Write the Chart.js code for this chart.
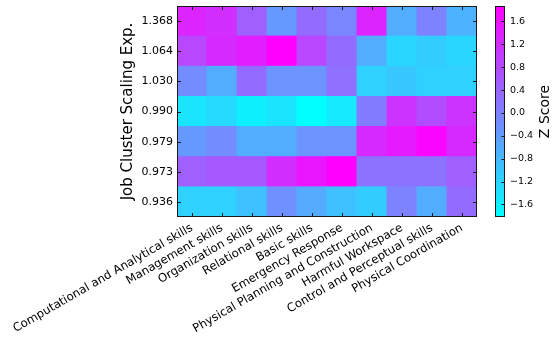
<!DOCTYPE html>
<html>
<head>
<meta charset="utf-8">
<script src="https://cdn.jsdelivr.net/npm/chart.js@4.4.1/dist/chart.umd.min.js"></script>
<style>
  html, body { margin: 0; padding: 0; background: #fff; }
  #wrap { position: relative; width: 555px; height: 337px; }
  #wrap canvas { position: absolute; left: 0; top: 0; }
</style>
</head>
<body>
<div id="wrap">
  <canvas id="heat" width="555" height="337"></canvas>
  <canvas id="cbar" width="555" height="337"></canvas>
</div>
<script>
// Skill clusters (columns)
const skills = [
  'Computational and Analytical skills',
  'Management skills',
  'Organization skills',
  'Relational skills',
  'Basic skills',
  'Emergency Response',
  'Physical Planning and Construction',
  'Harmful Workspace',
  'Control and Perceptual skills',
  'Physical Coordination'
];

// Job cluster scaling exponents (rows, top to bottom)
const scalingExp = ['1.368', '1.064', '1.030', '0.990', '0.979', '0.973', '0.936'];

// Z scores per job cluster, one value per skill cluster
const z1368 = [ 1.35,  1.21,  0.50, -0.34,  0.32, -0.09,  1.35, -0.64, -0.01, -0.71];
const z1064 = [ 0.84,  1.28,  1.43,  1.87,  0.84,  0.32, -0.64, -1.23, -1.08, -1.23];
const z1030 = [-0.16, -0.64,  0.32, -0.27, -0.27,  0.25, -1.16, -1.01, -1.16, -1.16];
const z0990 = [-1.45, -1.27, -1.60, -1.45, -1.82, -1.52,  0.06,  1.13,  0.76,  1.13];
const z0979 = [-0.34, -0.16, -0.64, -0.64, -0.27, -0.27,  1.28,  1.50,  1.80,  1.28];
const z0973 = [ 0.50,  0.58,  0.58,  1.21,  1.57,  1.87,  0.21,  0.21,  0.21,  0.50];
const z0936 = [-1.16, -1.16, -0.93, -0.23, -0.60, -0.93, -1.08, -0.01, -0.64,  0.32];

const zRows = [z1368, z1064, z1030, z0990, z0979, z0973, z0936];

// Colour bar range and ticks
const zMin = -1.82;
const zMax = 1.87;
const zTicks = [-1.6, -1.2, -0.8, -0.4, 0.0, 0.4, 0.8, 1.2, 1.6];

const FONT = "'DejaVu Sans', 'Liberation Sans', sans-serif";
Chart.defaults.font.family = FONT;
Chart.defaults.color = '#000';

// "cool" colour map: cyan -> magenta
function coolColor(v) {
  let t = (v - zMin) / (zMax - zMin);
  t = Math.max(0, Math.min(1, t));
  const r = Math.round(255 * t);
  const g = Math.round(255 * (1 - t));
  return `rgb(${r},${g},255)`;
}

const FRAME = '#1a1a1a';

// Frame plus inward-pointing ticks on all four sides
const heatFrame = {
  id: 'heatFrame',
  afterDraw(chart) {
    const { ctx, chartArea: a, scales } = chart;
    const len = 4;
    ctx.save();
    ctx.strokeStyle = FRAME;
    ctx.lineWidth = 1;
    ctx.beginPath();
    scales.x.ticks.forEach((t, i) => {
      const px = Math.round(scales.x.getPixelForTick(i)) + 0.5;
      ctx.moveTo(px, a.bottom); ctx.lineTo(px, a.bottom - len);
      ctx.moveTo(px, a.top); ctx.lineTo(px, a.top + len);
    });
    scales.y.ticks.forEach((t, i) => {
      const py = Math.round(scales.y.getPixelForTick(i)) + 0.5;
      ctx.moveTo(a.left, py); ctx.lineTo(a.left + len, py);
      ctx.moveTo(a.right, py); ctx.lineTo(a.right - len, py);
    });
    ctx.stroke();
    ctx.strokeRect(Math.round(a.left) + 0.5, Math.round(a.top) + 0.5,
                   Math.round(a.right - a.left) - 1, Math.round(a.bottom - a.top) - 1);
    ctx.restore();
  }
};

// Bottom row first so the stack builds upward
const datasets = scalingExp.map((lab, i) => {
  const vals = zRows[i];
  return {
    label: lab,
    data: vals.map(() => 1),
    zScores: vals,
    backgroundColor: vals.map(coolColor),
    borderWidth: 0,
    inflateAmount: 0.5,
    barPercentage: 1,
    categoryPercentage: 1,
    stack: 'grid'
  };
}).reverse();

new Chart(document.getElementById('heat'), {
  type: 'bar',
  data: { labels: skills, datasets },
  options: {
    responsive: false,
    animation: false,
    devicePixelRatio: 1,
    events: [],
    layout: { padding: { left: 119, top: 6, right: 78, bottom: 0 } },
    plugins: { legend: { display: false }, tooltip: { enabled: false } },
    scales: {
      x: {
        type: 'category',
        stacked: true,
        offset: true,
        grid: { display: false, drawTicks: false, tickLength: 0 },
        border: { display: false },
        ticks: {
          autoSkip: false,
          minRotation: 30,
          maxRotation: 30,
          padding: 4,
          color: '#000',
          font: { size: 11.7 }
        },
        afterFit(scale) {
          scale.height = 120;
          scale.paddingLeft = 0;
          scale.paddingRight = 0;
        }
      },
      y: {
        type: 'linear',
        stacked: true,
        min: 0,
        max: scalingExp.length,
        grid: { display: false, drawTicks: false, tickLength: 0 },
        border: { display: false },
        afterBuildTicks(scale) {
          scale.ticks = scalingExp.map((_, i) => ({ value: i + 0.5 }));
        },
        ticks: {
          padding: 4,
          color: '#000',
          font: { size: 11 },
          callback: (v, i) => scalingExp[scalingExp.length - 1 - i]
        },
        title: {
          display: true,
          text: 'Job Cluster Scaling Exp.',
          color: '#000',
          font: { size: 15 },
          padding: { top: 0, bottom: 0 }
        },
        afterFit(scale) {
          scale.width = 58;
          scale.paddingTop = 0;
          scale.paddingBottom = 0;
        }
      }
    }
  },
  plugins: [heatFrame]
});

// Colour bar: one floating bar across the full Z range, filled with the colour map
const cbarDecor = {
  id: 'cbarDecor',
  afterDraw(chart) {
    const { ctx, chartArea: a, scales } = chart;
    const len = 3.5;
    ctx.save();
    ctx.strokeStyle = FRAME;
    ctx.lineWidth = 1;
    ctx.beginPath();
    scales.y.ticks.forEach((t, i) => {
      const py = Math.round(scales.y.getPixelForTick(i)) + 0.5;
      ctx.moveTo(a.right, py); ctx.lineTo(a.right - len, py);
    });
    ctx.stroke();
    ctx.strokeRect(Math.round(a.left) + 0.5, Math.round(a.top) + 0.5,
                   Math.round(a.right - a.left) - 1, Math.round(a.bottom - a.top) - 1);
    ctx.font = `14px ${FONT}`;
    ctx.fillStyle = '#000';
    ctx.textAlign = 'center';
    ctx.textBaseline = 'middle';
    ctx.translate(545, (a.top + a.bottom) / 2);
    ctx.rotate(-Math.PI / 2);
    ctx.fillText('Z Score', 0, 0);
    ctx.restore();
  }
};

new Chart(document.getElementById('cbar'), {
  type: 'bar',
  data: {
    labels: ['Z'],
    datasets: [{
      data: [[zMin, zMax]],
      borderWidth: 0,
      barPercentage: 1,
      categoryPercentage: 1,
      backgroundColor(context) {
        const chart = context.chart;
        const a = chart.chartArea;
        if (!a) return coolColor(0);
        const y = chart.scales.y;
        const g = chart.ctx.createLinearGradient(0, y.getPixelForValue(zMin), 0, y.getPixelForValue(zMax));
        g.addColorStop(0, coolColor(zMin));
        g.addColorStop(1, coolColor(zMax));
        return g;
      }
    }]
  },
  options: {
    responsive: false,
    animation: false,
    devicePixelRatio: 1,
    events: [],
    layout: { padding: { left: 495, top: 6, right: 0, bottom: 120 } },
    plugins: { legend: { display: false }, tooltip: { enabled: false } },
    scales: {
      x: { display: false, offset: true },
      y: {
        type: 'linear',
        position: 'right',
        min: zMin,
        max: zMax,
        grid: { display: false, drawTicks: false, tickLength: 0 },
        border: { display: false },
        afterBuildTicks(scale) {
          scale.ticks = zTicks.map(v => ({ value: v }));
        },
        ticks: {
          padding: 5,
          color: '#000',
          font: { size: 9.5 },
          callback: v => (v < 0 ? '\u2212' : '') + Math.abs(v).toFixed(1)
        },
        afterFit(scale) {
          scale.width = 50;
          scale.paddingTop = 0;
          scale.paddingBottom = 0;
        }
      }
    }
  },
  plugins: [cbarDecor]
});
</script>
</body>
</html>
